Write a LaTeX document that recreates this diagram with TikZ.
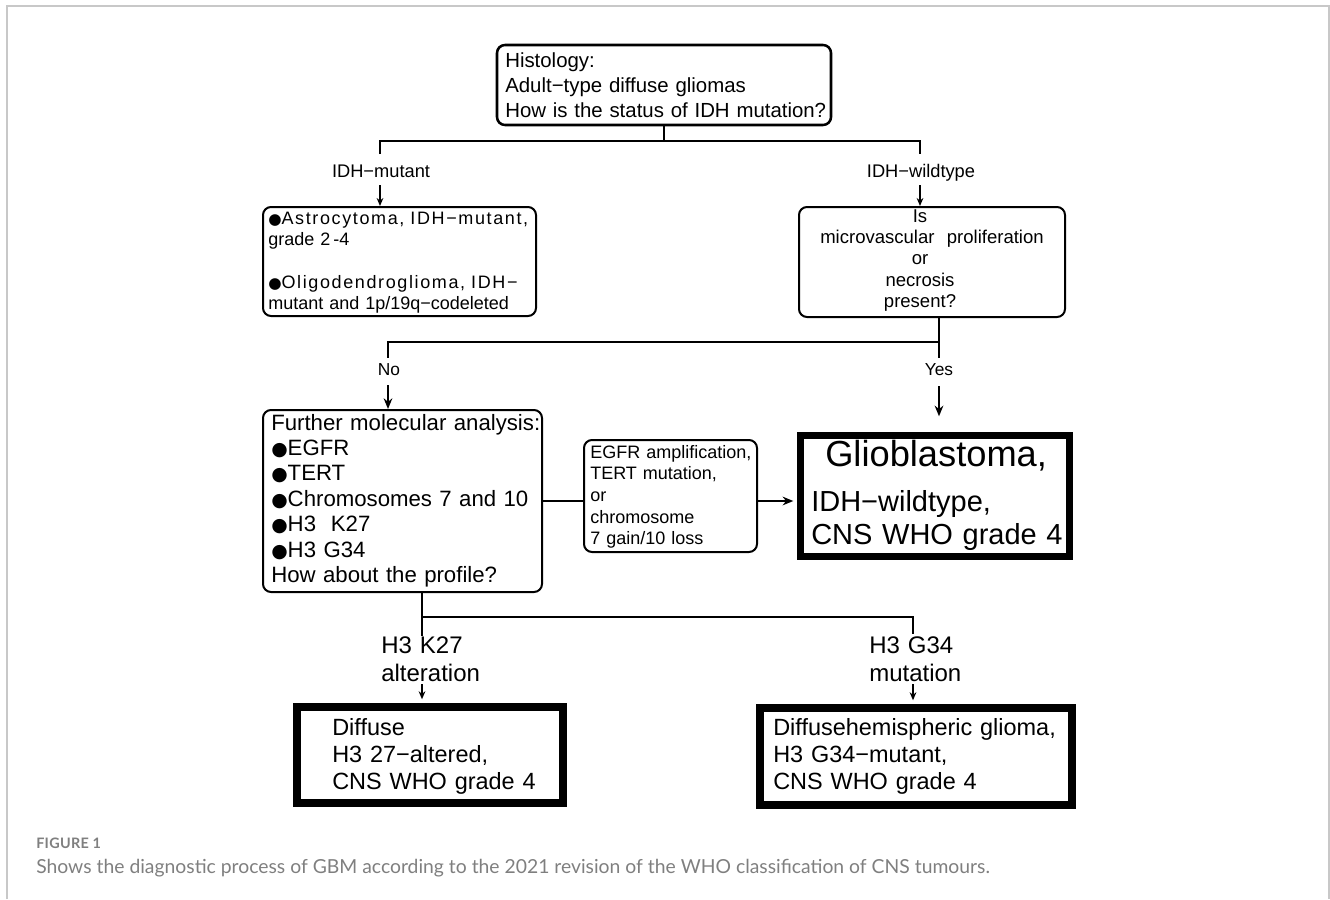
\documentclass[tikz,border=0pt]{standalone}
\usepackage{fontspec}
\setmainfont{Liberation Sans}
\newfontfamily\capfont{Lato}
\newfontfamily\dv[Scale=0.85]{DejaVu Sans}
\usetikzlibrary{arrows.meta}
\definecolor{capgray}{HTML}{7F7F7F}
\definecolor{framegray}{HTML}{C8C8C8}
\newcommand\fs[2]{\fontsize{#1}{#2}\selectfont}
\newcommand\lsp{\addfontfeature{LetterSpace=9}}
\newcommand\bul{{\dv ●}}
\tikzset{
  rbox/.style={draw, rounded corners=6pt, line width=1.5pt, inner sep=0pt},
  hbox/.style={draw, line width=5.6pt, inner sep=0pt},
  txt/.style={inner sep=0pt, anchor=base west, align=left, text width=#1},
  ctxt/.style={inner sep=0pt, anchor=base, align=center, text width=#1},
  lbl/.style={inner sep=0pt, anchor=base},
  c1/.style={line width=1pt},
  c2/.style={line width=1.8pt},
  a1/.style={line width=1pt, -{Stealth[length=6pt,width=5pt]}},
  a2/.style={line width=1.8pt, -{Stealth[length=8pt,width=6.5pt]}},
}
\begin{document}
\begin{tikzpicture}[x=0.75pt, y=-0.75pt]
\useasboundingbox (0,0) rectangle (1330,899);
% frame
\draw[framegray, line width=1.5pt] (6.5,899) -- (6.5,6.5) -- (1328.5,6.5) -- (1328.5,899);

% boxes
\node[rbox, line width=1.9pt, minimum width=250.5pt, minimum height=60pt] (top) at (664,85) {};
\node[rbox, minimum width=204.75pt, minimum height=81.75pt] (mut) at (399.5,261.5) {};
\node[rbox, minimum width=199.5pt, minimum height=82.5pt] (wt) at (932,262) {};
\node[rbox, minimum width=209.25pt, minimum height=136.5pt] (fur) at (402.5,501) {};
\node[rbox, minimum width=129.75pt, minimum height=84pt] (mid) at (670.5,496) {};
\node[hbox, minimum width=201.75pt, minimum height=90.75pt] (glio) at (935,496) {};
\node[hbox, minimum width=199.5pt, minimum height=72pt] (dif) at (430,755) {};
\node[hbox, minimum width=234pt, minimum height=72.75pt] (dhg) at (916,756.5) {};

% texts in boxes
\node[txt=300pt, font=\fs{15.3pt}{18.4pt}] (topT) at (505,68)
  {Histology:\\Adult−type diffuse gliomas\\How is the status of IDH mutation?};
\node[txt=300pt, font=\fs{13.5pt}{16pt}] (mutT) at (268,224)
  {\bul{\lsp Astrocytoma, IDH−mutant,}\\grade 2\,-4\\[16pt]\bul{\lsp Oligodendroglioma, IDH−}\\mutant and 1p/19q−codeleted};
\node[ctxt=250pt, font=\fs{13.9pt}{16.1pt}] (wtT) at (920,222)
  {Is\\\hspace*{18pt}microvascular\ \ proliferation\\or\\necrosis\\present?};
\node[txt=250pt, font=\fs{16.65pt}{19.1pt}] (furT) at (271,430)
  {Further molecular analysis:\\\bul EGFR\\\bul TERT\\\bul Chromosomes 7 and 10\\\bul H3\ \ K27\\\bul H3 G34\\How about the profile?};
\node[txt=200pt, font=\fs{13.5pt}{16.3pt}] (midT) at (590,458)
  {EGFR amplification,\\TERT mutation,\\or\\chromosome\\7 gain/10 loss};
\node[txt=300pt, font=\fs{21.75pt}{24.75pt}] (glioT) at (811,466)
  {\hspace*{10.5pt}{\fs{27.2pt}{30pt}Glioblastoma,}\\[9pt]IDH−wildtype,\\CNS WHO grade 4};
\node[txt=200pt, font=\fs{17.6pt}{20.25pt}] (difT) at (332,735)
  {Diffuse\\H3 27−altered,\\CNS WHO grade 4};
\node[txt=250pt, font=\fs{17.6pt}{20.25pt}] (dhgT) at (773,735)
  {Diffusehemispheric glioma,\\H3 G34−mutant,\\CNS WHO grade 4};

% labels
\node[lbl, font=\fs{13.7pt}{16pt}] (lblM) at (381,177) {IDH−mutant};
\node[lbl, font=\fs{13.7pt}{16pt}] (lblW) at (921,177) {IDH−wildtype};
\node[lbl, font=\fs{13pt}{16pt}] (no) at (389,375) {No};
\node[lbl, font=\fs{13pt}{16pt}] (yes) at (939,375) {Yes};
\node[txt=150pt, font=\fs{18pt}{21pt}] (lK) at (381,653) {H3 K27\\alteration};
\node[txt=150pt, font=\fs{18pt}{21pt}] (lG) at (869,653) {H3 G34\\mutation};

% connectors: top split
\coordinate (jT) at (664,141);
\coordinate (eM) at (380,154);
\coordinate (eW) at (920,154);
\draw[c1] (top.south) -- (jT);
\draw[c1] (eM) -- (eM |- jT) -- (eW |- jT) -- (eW);
\coordinate (aM) at (380,185);
\coordinate (aW) at (920,185);
\draw[a1] (aM) -- (aM |- mut.north);
\draw[a1] (aW) -- (aW |- wt.north);

% yes / no split
\coordinate (jY) at (939,342);
\coordinate (eY) at (939,358);
\coordinate (eN) at (388,358);
\draw[c2] (wt.south -| jY) -- (eY);
\draw[c2] (jY) -| (eN);
\coordinate (aN) at (388,385);
\coordinate (aY) at (939,386);
\draw[a2] (aN) -- (aN |- fur.north);
\draw[a2, shorten >=11.6pt] (aY) -- (aY |- glio.north);

% further -> middle -> glioblastoma
\draw[line width=1.9pt] (fur.east) -- (fur.east -| mid.west);
\draw[line width=1.9pt, -{Stealth[length=8pt,width=6.5pt]}, shorten >=2.6pt] (mid.east |- fur.east) -- (glio.west |- fur.east);

% bottom split
\coordinate (jF) at (422,617);
\coordinate (eK) at (422,636);
\coordinate (eG) at (913,634);
\draw[c2] (fur.south -| jF) -- (eK);
\draw[c2] (jF) -| (eG);
\coordinate (aK) at (422,684);
\coordinate (aG) at (913,684);
\draw[a1, line width=1.3pt, shorten >=3pt] (aK) -- (aK |- dif.north);
\draw[a1, line width=1.3pt, shorten >=3pt] (aG) -- (aG |- dhg.north);

% caption
\node[anchor=base west, inner sep=0pt, text=capgray, font=\capfont\bfseries\fs{10.8pt}{12pt}] (capA) at (36,848) {\addfontfeature{LetterSpace=2}FIGURE 1};
\node[anchor=base west, inner sep=0pt, text=capgray, font=\capfont\fs{14.5pt}{17pt}] (capB) at (36,873) {Shows the diagnostic process of GBM according to the 2021 revision of the WHO classification of CNS tumours.};
\end{tikzpicture}
\end{document}
